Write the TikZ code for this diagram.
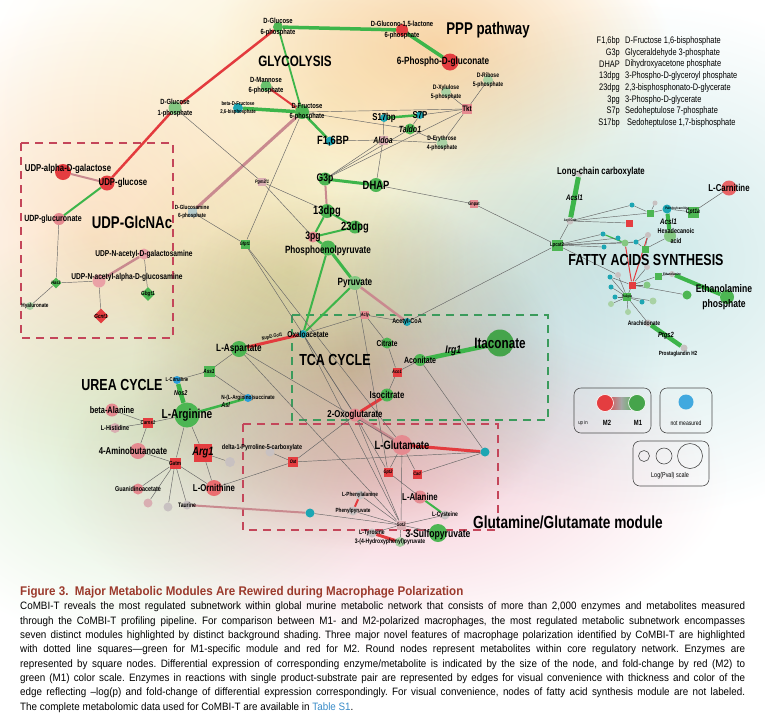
\documentclass[tikz,border=0pt]{standalone}
\usepackage{fontspec}
\newfontfamily\netfont[FakeStretch=0.78]{Liberation Sans}
\newfontfamily\capfont[FakeStretch=0.92]{Liberation Sans}
\usetikzlibrary{shapes.geometric}

\definecolor{cG}{HTML}{4DB653}
\definecolor{cLG}{HTML}{84C882}
\definecolor{cPG}{HTML}{A9D2A4}
\definecolor{cR}{HTML}{E43D40}
\definecolor{cPk}{HTML}{E58A90}
\definecolor{cPP}{HTML}{D9AEB2}
\definecolor{cGy}{HTML}{C8C1C1}
\definecolor{cT}{HTML}{1DA6B3}
\definecolor{cB}{HTML}{2C9FDB}
\definecolor{cGT}{HTML}{B7CCCB}
\definecolor{eGreen}{HTML}{3DB54A}
\definecolor{eRed}{HTML}{E33B3E}
\definecolor{eRose}{HTML}{C98A8F}
\definecolor{boxRed}{HTML}{C4465A}
\definecolor{boxGreen}{HTML}{3B9B5C}
\definecolor{capRed}{HTML}{9B3A2C}
\definecolor{capBlue}{HTML}{3A8CC8}
\definecolor{bgYel}{HTML}{FAEFCC}
\definecolor{bgPeach}{HTML}{FBDDBE}
\definecolor{bgOr}{HTML}{FCE4CD}
\definecolor{bgMid}{HTML}{EEF2D5}
\definecolor{bgGrn}{HTML}{D8EDD0}
\definecolor{bgTan}{HTML}{D6C6AE}
\definecolor{bgPink}{HTML}{F6CFD9}
\definecolor{bgCyan}{HTML}{CDE8E8}
\definecolor{bgBlue}{HTML}{E3EBEE}

\pgfdeclarelayer{shade}
\pgfdeclarelayer{links}
\pgfsetlayers{shade,links,main}

\tikzset{
  met/.style={circle, inner sep=0pt, minimum size=#1},
  enz/.style={rectangle, inner sep=0pt, minimum size=#1},
  dmd/.style={diamond, inner sep=0pt, minimum size=#1},
  lb/.style={font={\netfont\bfseries\pgfmathsetmacro\lbskip{1.35*#1}\fontsize{#1}{\lbskip}\selectfont}, inner sep=0pt, align=center},
  gn/.style={font={\netfont\bfseries\itshape\fontsize{#1}{#1}\selectfont}, inner sep=0pt},
  head/.style={font={\netfont\bfseries\fontsize{#1}{#1}\selectfont}, inner sep=0pt},
  keytext/.style={font={\netfont\fontsize{#1}{#1}\selectfont}, inner sep=0pt},
  link/.style={draw=black!60, line width=0.45pt},
  eg/.style={draw=eGreen, line width=#1},
  er/.style={draw=eRed, line width=#1},
  ep/.style={draw=eRose, line width=#1},
  modbox/.style={dash pattern=on 8pt off 6pt, line width=1.6pt},
  keybox/.style={draw=black!70, rounded corners=7pt, line width=0.6pt},
}

\begin{document}
\begin{tikzpicture}[x=1pt, y=-1pt]
\useasboundingbox (0,0) rectangle (765,713);

% background shading of the modules
\begin{pgfonlayer}{shade}
\fill[white] (0,0) rectangle (765,713);
\begin{scope}[blend mode=multiply]
\shade[inner color=bgYel, outer color=white] (330,110) ellipse (360 and 270);
\shade[inner color=bgPeach, outer color=white] (440,45) ellipse (230 and 140);
\shade[inner color=bgOr, outer color=white] (95,240) ellipse (250 and 240);
\shade[inner color=bgMid, outer color=white] (290,270) ellipse (180 and 140);
\shade[inner color=bgGrn, outer color=white] (150,430) ellipse (270 and 220);
\shade[inner color=bgTan, outer color=white] (350,370) ellipse (220 and 180);
\shade[inner color=bgPink, outer color=white] (390,480) ellipse (340 and 170);
\shade[inner color=bgCyan, outer color=white] (640,260) ellipse (320 and 260);
\shade[inner color=bgBlue, outer color=white] (500,330) ellipse (170 and 180);
\end{scope}
\end{pgfonlayer}

% glycolysis and PPP
\node[met=10, fill=cG, label={[lb=7.5]center:D-Glucose\\6-phosphate}] (g6p) at (278,27) {};
\node[met=12, fill=cR, label={[lb=7.5]center:D-Glucono-1,5-lactone\\6-phosphate}] (lact) at (402,30) {};
\node[met=17, fill=cR, label={[lb=10.5,xshift=-7pt]center:6-Phospho-D-gluconate}] (pgluc) at (450,62) {};
\node[met=11, fill=cG!85, label={[lb=7.5]center:D-Mannose\\6-phosphate}] (man6p) at (266,86) {};
\node[met=14, fill=cG, label={[lb=7.5,xshift=5pt]center:D-Fructose\\6-phosphate}] (f6p) at (302,112) {};
\node[met=10, fill=cT, label={[lb=5.5]center:beta-D-Fructose\\2,6-bisphosphate}] (bf26bp) at (238,108) {};
\node[met=13, fill=cLG, label={[lb=7.5]center:D-Glucose\\1-phosphate}] (g1p) at (175,108) {};
\node[met=9, fill=cT, label={[lb=12,xshift=3pt]center:F1,6BP}] (f16bp) at (330,141) {};
\node[met=8, fill=cT, label={[lb=10]center:S17bp}] (s17bp) at (384,118) {};
\node[met=8, fill=cT, label={[lb=10]center:S7P}] (s7p) at (420,115) {};
\node[met=11, fill=cG, label={[gn=9]center:Taldo1}] (taldo1) at (410,129) {};
\node[enz=9, fill=cPP, label={[gn=9]center:Aldoa}] (aldoa) at (383,140) {};
\node[met=11, fill=cPG, label={[lb=6.5]center:D-Erythrose\\4-phosphate}] (e4p) at (442,143) {};
\node[enz=10, fill=cPk, label={[lb=8]center:Tkt}] (tkt) at (467,109) {};
\node[met=10, fill=cPG, label={[lb=6.5]center:D-Xylulose\\5-phosphate}] (xu5p) at (446,92) {};
\node[met=10, fill=cPG, label={[lb=6.5]center:D-Ribose\\5-phosphate}] (r5p) at (488,80) {};
\node[met=13, fill=cG, label={[lb=11]center:G3p}] (g3p) at (325,179) {};
\node[met=14, fill=cG, label={[lb=12]center:DHAP}] (dhap) at (376,185) {};
\node[enz=8, fill=cPP, label={[gn=5]center:Pgm2l1}] (pgm2l1) at (262,182) {};
\node[enz=8, fill=cPk, label={[lb=5]center:Gnpat}] (gnpat) at (474,204) {};
\node[met=14, fill=cG, label={[lb=12]center:13dpg}] (dpg13) at (327,211) {};
\node[met=13, fill=cG, label={[lb=12]center:23dpg}] (dpg23) at (355,227) {};
\node[met=11, fill=cPk, label={[lb=11]center:3pg}] (pg3) at (313,237) {};
\node[met=15, fill=cG, label={[lb=10.5,yshift=-3pt]center:Phosphoenolpyruvate}] (pep) at (328,248) {};
\node[met=14, fill=cLG, label={[lb=10.5]center:Pyruvate}] (pyr) at (355,283) {};
\node[head=15] (glyT) at (295,61) {GLYCOLYSIS};
\node[head=17] (pppT) at (488,30) {PPP pathway};

% TCA cycle
\node[met=8, fill=cT, label={[lb=8.5,xshift=5pt]center:Oxaloacetate}] (oaa) at (303,334) {};
\node[met=8, fill=cT, label={[lb=7]center:Acetyl-CoA}] (accoa) at (407,322) {};
\node[enz=8, fill=cPk, label={[gn=5]center:Acly}] (acly) at (365,315) {};
\node[met=11, fill=cG, label={[lb=8.5]center:Citrate}] (cit) at (387,343) {};
\node[met=12, fill=cG, label={[lb=9]center:Aconitate}] (acon) at (420,360) {};
\node[met=27, fill=cG!90!black, label={[lb=15]center:Itaconate}] (itac) at (500,343) {};
\node[enz=9, fill=cR, label={[gn=5]center:Aco1}] (aco1) at (397,372) {};
\node[met=13, fill=cG, label={[lb=10]center:Isocitrate}] (icit) at (387,395) {};
\node[met=13, fill=cPk, label={[lb=10]center:2-Oxoglutarate}] (oxog) at (355,415) {};
\node[head=16] (tcaT) at (335,360) {TCA CYCLE};

% glutamine / glutamate
\node[met=20, fill=cPk, label={[lb=12]center:L-Glutamate}] (glu) at (402,445) {};
\node[enz=9, fill=cR, label={[gn=5]center:Gpt2}] (gpt2) at (388,472) {};
\node[enz=9, fill=cR, label={[gn=5]center:Cad}] (cad) at (417,474) {};
\node[met=9, fill=cT] (glut) at (485,452) {};
\node[met=13, fill=cPk, label={[lb=10]center:L-Alanine}] (ala) at (420,497) {};
\node[met=9, fill=cGy, label={[lb=6.5]center:L-Cysteine}] (cys) at (445,515) {};
\node[met=9, fill=cGy, label={[lb=6]center:L-Phenylalanine}] (phe) at (360,495) {};
\node[met=9, fill=cGy, label={[lb=6]center:Phenylpyruvate}] (phpyr) at (353,511) {};
\node[enz=9, fill=cPP, label={[gn=5]center:Got2}] (got2) at (401,525) {};
\node[met=9, fill=cGy, label={[lb=6.5]center:L-Tyrosine}] (tyr) at (372,533) {};
\node[met=10, fill=cPG, label={[lb=6.5,xshift=-10pt]center:3-(4-Hydroxyphenyl)pyruvate}] (hpp) at (400,542) {};
\node[met=18, fill=cG, label={[lb=11,yshift=-2pt]center:3-Sulfopyruvate}] (sulf) at (438,533) {};
\node[met=9, fill=cT] (taut) at (310,513) {};
\node[enz=10, fill=cR, label={[gn=5]center:Oat}] (oat) at (293,462) {};
\node[met=9, fill=cGy, label={[lb=7,xshift=-8pt,yshift=4pt]center:delta-1-Pyrroline-5-carboxylate}] (p5c) at (270,452) {};
\node[head=17.5] (gluT) at (568,522) {Glutamine/Glutamate module};

% UDP-GlcNAc
\node[met=16, fill=cR, label={[lb=10,xshift=5pt,yshift=3pt]center:UDP-alpha-D-galactose}] (udpgal) at (63,172) {};
\node[met=15, fill=cR, label={[lb=10,xshift=16pt]center:UDP-glucose}] (udpglc) at (107,183) {};
\node[met=12, fill=cPk, label={[lb=9,xshift=-6pt]center:UDP-glucuronate}] (udpgla) at (59,219) {};
\node[met=11, fill=cPk!80, label={[lb=8.5]center:UDP-N-acetyl-D-galactosamine}] (galnac) at (144,254) {};
\node[met=13, fill=cPk!80, label={[lb=8.5,xshift=28pt,yshift=4pt]center:UDP-N-acetyl-alpha-D-glucosamine}] (glcnac) at (99,281) {};
\node[dmd=11, fill=cG, label={[gn=5]center:Has3}] (has3) at (56,283) {};
\node[dmd=15, fill=cR, label={[gn=6]center:Gcnt1}] (gcnt1) at (101,316) {};
\node[dmd=14, fill=cG, label={[gn=6]center:Gbgt1}] (gbgt1) at (148,294) {};
\node[met=8, fill=cPG, label={[lb=6,xshift=5pt]center:Hyaluronate}] (hyal) at (30,306) {};
\node[enz=9, fill=cGT, label={[lb=6]center:D-Glucosamine\\6-phosphate}] (glcn6p) at (192,212) {};
\node[enz=9, fill=cG, label={[gn=5]center:Gfpt1}] (gfpt1) at (245,244) {};
\node[head=17] (udpT) at (132,222) {UDP-GlcNAc};

% urea cycle
\node[met=16, fill=cG, label={[lb=10.5]center:L-Aspartate}] (asp) at (239,349) {};
\node[enz=11, fill=cG, label={[gn=6]center:Ass1}] (ass1) at (209,371) {};
\node[met=8, fill=cB, label={[lb=5.5]center:L-Citrulline}] (citr) at (177,380) {};
\node[met=8, fill=cB, label={[lb=6]center:N-(L-Arginino)succinate}] (argsuc) at (248,398) {};
\node[met=25, fill=cG, label={[lb=13]center:L-Arginine}] (arg) at (187,415) {};
\node[met=13, fill=cPk, label={[lb=9.5]center:beta-Alanine}] (bala) at (112,410) {};
\node[met=10, fill=cPP, label={[lb=7]center:L-Histidine}] (his) at (115,428) {};
\node[enz=10, fill=cR, label={[gn=5.5]center:Carns1}] (carns1) at (148,423) {};
\node[met=16, fill=cPk, label={[lb=10,xshift=-5pt]center:4-Aminobutanoate}] (gaba) at (138,451) {};
\node[enz=11, fill=cR, label={[lb=6]center:Gatm}] (gatm) at (175,463) {};
\node[enz=18, fill=cR, label={[gn=12]center:Arg1}] (arg1) at (203,453) {};
\node[met=10, fill=cGy] (urea) at (230,462) {};
\node[met=16, fill=cR!75, label={[lb=10]center:L-Ornithine}] (orn) at (214,488) {};
\node[met=11, fill=cPk, label={[lb=7]center:Guanidinoacetate}] (guan) at (138,489) {};
\node[met=9, fill=cPP] (gry1) at (148,503) {};
\node[met=9, fill=cGy] (gry2) at (168,507) {};
\node[met=9, fill=cGy, label={[lb=6.5]center:Taurine}] (taur) at (187,505) {};
\node[head=16] (ureaT) at (122,385) {UREA CYCLE};

% fatty acids synthesis
\node[met=6, fill=cGy, label={[lb=10,xshift=22pt,yshift=2pt]center:Long-chain carboxylate}] (lcc) at (579,174) {};
\node[met=7, fill=cGy, label={[lb=3.5]center:Acyl-CoA}] (acyl) at (570,221) {};
\node[enz=11, fill=cG, label={[lb=5.5]center:Lpcat2}] (lpcat2) at (557,245) {};
\node[enz=11, fill=cG, label={[gn=6.5]center:Cpt1a}] (cpt1a) at (693,212) {};
\node[met=15, fill=cR!80, label={[lb=10]center:L-Carnitine}] (carn) at (729,188) {};
\node[met=9, fill=cT, label={[lb=3.5,xshift=10pt]center:Palmitoylcarnitine}] (palm) at (667,209) {};
\node[met=12, fill=cLG, label={[lb=7,xshift=6pt]center:Hexadecanoic\\acid}] (hexa) at (670,236) {};
\node[met=6, fill=cGy, label={[lb=3.5]center:Ethanolamine}] (etam) at (672,274) {};
\node[met=14, fill=cG, label={[lb=11,xshift=-3pt]center:Ethanolamine\\phosphate}] (etp) at (727,297) {};
\node[met=7, fill=cGy, label={[lb=6.5,xshift=-4pt]center:Arachidonate}] (arach) at (648,323) {};
\node[met=7, fill=cGy, label={[lb=6,xshift=-6pt,yshift=-6pt]center:Prostaglandin H2}] (pgh2) at (684,348) {};
\node[enz=8, fill=cG, label={[lb=3.5]center:Pla2g4a}] (pla2) at (627,297) {};
\node[enz=7, fill=cR] (fr1) at (629,223) {};
\node[enz=7, fill=cR] (fr2) at (632,285) {};
\node[enz=7, fill=cG] (fg1) at (650,213) {};
\node[enz=7, fill=cG] (fg2) at (645,249) {};
\node[enz=7, fill=cG] (fg3) at (658,276) {};
\node[met=5, fill=cT] (ft1) at (603,234) {};
\node[met=5, fill=cT] (ft2) at (618,238) {};
\node[met=5, fill=cT] (ft3) at (604,247) {};
\node[met=5, fill=cT] (ft4) at (632,205) {};
\node[met=5, fill=cT] (ft5) at (636,242) {};
\node[met=5, fill=cT] (ft6) at (610,277) {};
\node[met=5, fill=cT] (ft7) at (611,287) {};
\node[met=5, fill=cT] (ft8) at (642,302) {};
\node[met=5, fill=cT] (ft9) at (615,297) {};
\node[met=7, fill=cLG] (fc1) at (625,243) {};
\node[met=7, fill=cLG] (fc2) at (647,285) {};
\node[met=9, fill=cG] (fc3) at (687,295) {};
\node[met=7, fill=cPG] (fc4) at (653,301) {};
\node[met=6, fill=cPG] (fc5) at (611,304) {};
\node[met=6, fill=cPG] (fc6) at (628,312) {};
\node[met=5, fill=cGy] (fp1) at (655,203) {};
\node[met=6, fill=cGy] (fp2) at (648,235) {};
\node[met=6, fill=cGy] (fp3) at (618,275) {};
\node[met=6, fill=cGy] (fp4) at (647,267) {};
\node[head=16] (faT) at (646,260) {FATTY ACIDS SYNTHESIS};

% connectors
\begin{pgfonlayer}{links}
\draw[modbox, boxRed] (21,143) rectangle (173,338);
\draw[modbox, boxRed] (243,424) rectangle (498,530);
\draw[modbox, boxGreen] (292,315) rectangle (548,420);

\draw[eg=3.5] (g6p) -- (lact);
\draw[eg=3.5] (lact) -- (pgluc);
\draw[eg=1.8] (g6p) -- (f6p);
\draw[eg=3.5] (bf26bp) -- (f6p);
\draw[eg=2.5] (f6p) -- (f16bp);
\draw[eg=2.5] (s17bp) -- (s7p);
\draw[eg=3] (g3p) -- (dhap);
\draw[eg=2] (dpg13) -- (dpg23);
\draw[eg=2] (dpg13) -- (pg3);
\draw[eg=2] (dpg23) -- (pg3);
\draw[eg=2.5] (pg3) -- (pep);
\draw[eg=3] (pep) -- (pyr);
\draw[eg=2] (pep) -- (oaa);
\draw[eg=2] (pyr) -- (oaa);
\draw[eg=4.5] (acon) -- node[gn=11, pos=0.45, yshift=2pt] (irg1) {Irg1} (itac);
\draw[eg=2] (udpglc) -- (udpgla);
\draw[eg=4.5] (citr) -- node[gn=7] (nos2) {Nos2} (arg);
\draw[eg=2.5] (argsuc) -- node[gn=7, xshift=4pt] (asl) {Asl} (arg);
\draw[eg=2] (ala) -- (cys);
\draw[eg=5] (lcc) -- node[gn=8] (acsl1a) {Acsl1} (acyl);
\draw[eg=4] (palm) -- node[gn=8] (acsl1b) {Acsl1} (hexa);
\draw[eg=4] (etam) -- (etp);
\draw[eg=4.5] (arach) -- node[gn=7.5] (ptgs2) {Ptgs2} (pgh2);
\draw[eg=1.2] (ft1) -- (fc1);

\draw[er=2.5] (g1p) -- (g6p);
\draw[er=2] (man6p) -- (f6p);
\draw[er=2.5] (g1p) -- (udpglc);
\draw[er=3] (asp) -- node[gn=5, sloped, above=0.5pt] (nup) {Nupl2-Got1} (oaa);
\draw[er=3] (icit) -- (oxog);
\draw[er=3] (glu) -- (glut);
\draw[er=2] (phe) -- (phpyr);
\draw[er=3] (tyr) -- (hpp);
\draw[er=1] (fc1) -- (fr2);
\draw[er=1] (fp2) -- (fr2);

\draw[ep=3] (f6p) -- (glcn6p);
\draw[ep=2] (g3p) -- (dpg13);
\draw[ep=2.5] (pyr) -- (accoa);
\draw[ep=2] (udpgal) -- (udpglc);
\draw[ep=2.5] (galnac) -- (glcnac);
\draw[ep=3] (oxog) -- (glu);
\draw[ep=2] (taur) -- (taut);

\draw[link] (g1p) -- (pgm2l1);
\draw[link] (pgm2l1) -- (pg3);
\draw[link] (pgm2l1) -- (dpg13);
\draw[link] (f6p) -- (gfpt1);
\draw[link] (f6p) -- (tkt);
\draw[link] (f6p) -- (taldo1);
\draw[link] (f16bp) -- (aldoa);
\draw[link] (aldoa) -- (e4p);
\draw[link] (aldoa) -- (s17bp);
\draw[link] (aldoa) -- (g3p);
\draw[link] (aldoa) -- (dhap);
\draw[link] (g3p) -- (taldo1);
\draw[link] (g3p) -- (tkt);
\draw[link] (tkt) -- (r5p);
\draw[link] (tkt) -- (xu5p);
\draw[link] (tkt) -- (s7p);
\draw[link] (tkt) -- (e4p);
\draw[link] (taldo1) -- (e4p);
\draw[link] (taldo1) -- (s7p);
\draw[link] (dhap) -- (gnpat);
\draw[link] (gnpat) -- (lpcat2);
\draw[link] (accoa) -- (lpcat2);
\draw[link] (glcn6p) -- (gfpt1);
\draw[link] (gfpt1) -- (glu);
\draw[link] (gfpt1) -- (oxog);
\draw[link] (oaa) -- (acly);
\draw[link] (acly) -- (accoa);
\draw[link] (acly) -- (cit);
\draw[link] (cit) -- (aco1);
\draw[link] (aco1) -- (acon);
\draw[link] (aco1) -- (icit);
\draw[link] (acon) -- (glut);
\draw[link] (pyr) -- (gpt2);
\draw[link] (oaa) -- (got2);
\draw[link] (oaa) -- (oxog);
\draw[link] (asp) -- (got2);
\draw[link] (asp) -- (glu);
\draw[link] (oxog) -- (gpt2);
\draw[link] (oxog) -- (got2);
\draw[link] (oxog) -- (oat);
\draw[link] (glu) -- (gpt2);
\draw[link] (glu) -- (cad);
\draw[link] (glu) -- (got2);
\draw[link] (gpt2) -- (ala);
\draw[link] (cad) -- (glut);
\draw[link] (oat) -- (glut);
\draw[link] (oat) -- (orn);
\draw[link] (p5c) -- (oat);
\draw[link] (taut) -- (got2);
\draw[link] (got2) -- (phe);
\draw[link] (got2) -- (phpyr);
\draw[link] (got2) -- (cys);
\draw[link] (got2) -- (tyr);
\draw[link] (got2) -- (sulf);
\draw[link] (got2) -- (hpp);
\draw[link] (asp) -- (ass1);
\draw[link] (ass1) -- (citr);
\draw[link] (ass1) -- (argsuc);
\draw[link] (bala) -- (carns1);
\draw[link] (his) -- (carns1);
\draw[link] (carns1) -- (arg);
\draw[link] (carns1) -- (gaba);
\draw[link] (arg) -- (gatm);
\draw[link] (arg) -- (arg1);
\draw[link] (arg1) -- (orn);
\draw[link] (arg1) -- (urea);
\draw[link] (gatm) -- (gaba);
\draw[link] (gatm) -- (orn);
\draw[link] (gatm) -- (guan);
\draw[link] (gatm) -- (gry1);
\draw[link] (gatm) -- (gry2);
\draw[link] (gatm) -- (taur);
\draw[link] (udpgla) -- (has3);
\draw[link] (has3) -- (glcnac);
\draw[link] (has3) -- (hyal);
\draw[link] (glcnac) -- (gcnt1);
\draw[link] (galnac) -- (gbgt1);
\draw[link] (cpt1a) -- (carn);
\draw[link] (palm) -- (cpt1a);
\draw[link] (lpcat2) -- (acyl);
\draw[link] (lpcat2) -- (ft1);
\draw[link] (lpcat2) -- (ft2);
\draw[link] (lpcat2) -- (ft3);
\draw[link] (lpcat2) -- (fc1);
\draw[link] (lpcat2) -- (ft5);
\draw[link] (lpcat2) -- (fp3);
\draw[link] (acyl) -- (ft4);
\draw[link] (acyl) -- (fg1);
\draw[link] (acyl) -- (fr1);
\draw[link] (fg1) -- (fp1);
\draw[link] (fg1) -- (palm);
\draw[link] (ft4) -- (fg1);
\draw[link] (fc1) -- (ft5);
\draw[link] (ft5) -- (fg2);
\draw[link] (fg2) -- (fp2);
\draw[link] (fg2) -- (hexa);
\draw[link] (ft5) -- (fp2);
\draw[link] (pla2) -- (ft6);
\draw[link] (pla2) -- (ft7);
\draw[link] (pla2) -- (ft9);
\draw[link] (pla2) -- (fc5);
\draw[link] (pla2) -- (fc6);
\draw[link] (pla2) -- (fr2);
\draw[link] (pla2) -- (fc4);
\draw[link] (pla2) -- (ft8);
\draw[link] (pla2) -- (fp3);
\draw[link] (fr2) -- (ft6);
\draw[link] (fr2) -- (fc2);
\draw[link] (fr2) -- (fp4);
\draw[link] (fr2) -- (fg3);
\draw[link] (fr2) -- (fc3);
\draw[link] (fg3) -- (etam);
\draw[link] (pla2) -- (arach);
\end{pgfonlayer}

% key to the colours and sizes
\node[keybox, minimum width=77, minimum height=45] (keyfc) at (612.5,410.5) {};
\shade[left color=cR, right color=cG, middle color=black!35] (605,397) rectangle (637,409);
\node[met=17, fill=cR, draw=white, line width=0.6pt] (keyM2) at (605,403) {};
\node[met=17, fill=cG!90!black, draw=white, line width=0.6pt] (keyM1) at (637,403) {};
\node[keytext=5.5] (keyup) at (583,423) {up in};
\node[head=7.5] (keyM2T) at (607,423) {M2};
\node[head=7.5] (keyM1T) at (638,423) {M1};
\node[keybox, minimum width=52, minimum height=45] (keynm) at (686,410.5) {};
\node[met=15, fill=cB!90] (keyblue) at (686,402) {};
\node[keytext=6.5] (keynmT) at (686,423) {not measured};
\node[keybox, minimum width=76, minimum height=45] (keypv) at (671,463.5) {};
\node[met=11, draw=black!70, line width=0.6pt] (keys1) at (644,456) {};
\node[met=16, draw=black!70, line width=0.6pt] (keys2) at (664,456) {};
\node[met=25, draw=black!70, line width=0.6pt] (keys3) at (690,456) {};
\node[keytext=7] (keypvT) at (670,476) {Log(Pval) scale};

% abbreviations
\node[keytext=9.5, anchor=east] (ab1) at (620,41) {F1,6bp};
\node[keytext=9.5, anchor=west] (ds1) at (625,41) {D-Fructose 1,6-bisphosphate};
\node[keytext=9.5, anchor=east] (ab2) at (620,53) {G3p};
\node[keytext=9.5, anchor=west] (ds2) at (625,53) {Glyceraldehyde 3-phosphate};
\node[keytext=9.5, anchor=east] (ab3) at (620,64.5) {DHAP};
\node[keytext=9.5, anchor=west] (ds3) at (625,64.5) {Dihydroxyacetone phosphate};
\node[keytext=9.5, anchor=east] (ab4) at (620,76.5) {13dpg};
\node[keytext=9.5, anchor=west] (ds4) at (625,76.5) {3-Phospho-D-glyceroyl phosphate};
\node[keytext=9.5, anchor=east] (ab5) at (620,88) {23dpg};
\node[keytext=9.5, anchor=west] (ds5) at (625,88) {2,3-bisphosphonato-D-glycerate};
\node[keytext=9.5, anchor=east] (ab6) at (620,100) {3pg};
\node[keytext=9.5, anchor=west] (ds6) at (625,100) {3-Phospho-D-glycerate};
\node[keytext=9.5, anchor=east] (ab7) at (620,111.5) {S7p};
\node[keytext=9.5, anchor=west] (ds7) at (625,111.5) {Sedoheptulose 7-phosphate};
\node[keytext=9.5, anchor=east] (ab8) at (620,123) {S17bp};
\node[keytext=9.5, anchor=west] (ds8) at (627,123) {Sedoheptulose 1,7-bisphosphate};

% caption
\node[anchor=north west, inner sep=0pt, text=capRed, font={\capfont\bfseries\fontsize{12.6}{14}\selectfont}] (figtitle) at (20,586) {Figure 3.\ \ Major Metabolic Modules Are Rewired during Macrophage Polarization};
\node[anchor=north west, inner sep=0pt, text width=725pt, align=justify, font={\capfont\fontsize{10.7}{14.3}\selectfont}] (figtext) at (20,602) {\frenchspacing\lefthyphenmin=62 \hyphenpenalty=10000 \exhyphenpenalty=10000 \tolerance=10000
CoMBI-T reveals the most regulated subnetwork within global murine metabolic network that consists of more than 2,000 enzymes and metabolites measured\linebreak
through the CoMBI-T profiling pipeline. For comparison between M1- and M2-polarized macrophages, the most regulated metabolic subnetwork encompasses\linebreak
seven distinct modules highlighted by distinct background shading. Three major novel features of macrophage polarization identified by CoMBI-T are highlighted\linebreak
with dotted line squares—green for M1-specific module and red for M2. Round nodes represent metabolites within core regulatory network. Enzymes are\linebreak
represented by square nodes. Differential expression of corresponding enzyme/metabolite is indicated by the size of the node, and fold-change by red (M2) to\linebreak
green (M1) color scale. Enzymes in reactions with single product-substrate pair are represented by edges for visual convenience with thickness and color of the\linebreak
edge reflecting –log(p) and fold-change of differential expression correspondingly. For visual convenience, nodes of fatty acid synthesis module are not labeled.\linebreak
The complete metabolomic data used for CoMBI-T are available in \textcolor{capBlue}{Table S1}.};
\end{tikzpicture}
\end{document}
